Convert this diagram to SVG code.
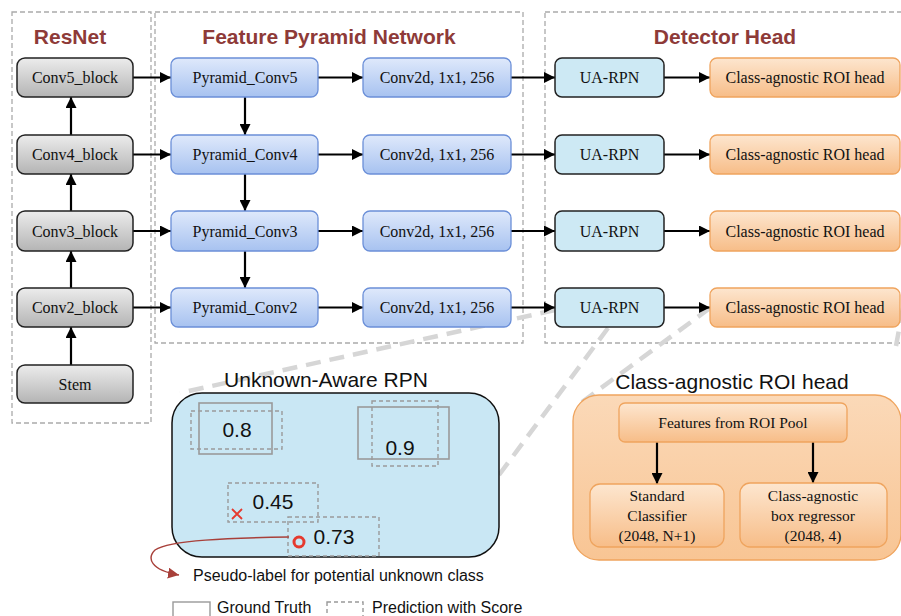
<svg xmlns="http://www.w3.org/2000/svg" width="901" height="616" viewBox="0 0 901 616">
<defs>
<linearGradient id="gGray" x1="0" y1="0" x2="0" y2="1"><stop offset="0" stop-color="#ececec"/><stop offset="1" stop-color="#b4b4b4"/></linearGradient>
<linearGradient id="gBlue" x1="0" y1="0" x2="0" y2="1"><stop offset="0" stop-color="#dfe9fb"/><stop offset="1" stop-color="#a7c2f0"/></linearGradient>
<linearGradient id="gOrange" x1="0" y1="0" x2="0" y2="1"><stop offset="0" stop-color="#fde6cf"/><stop offset="1" stop-color="#f7bd88"/></linearGradient>
<linearGradient id="gOrangeBig" x1="0" y1="0" x2="0" y2="1"><stop offset="0" stop-color="#fbd9b8"/><stop offset="1" stop-color="#f8c594"/></linearGradient>
<marker id="ah" viewBox="0 0 10 10" refX="10" refY="5" markerWidth="11" markerHeight="11" markerUnits="userSpaceOnUse" orient="auto"><path d="M0,0 L10,5 L0,10 z" fill="#000"/></marker>
<marker id="ahr" viewBox="0 0 10 10" refX="10" refY="5" markerWidth="11" markerHeight="11" markerUnits="userSpaceOnUse" orient="auto"><path d="M0,0 L10,5 L0,10 z" fill="#a8403a"/></marker>
</defs>
<style>
.panel{fill:none;stroke:#aaa;stroke-width:1.3;stroke-dasharray:5 3}
.title{font-family:"Liberation Sans",Arial,sans-serif;font-weight:bold;font-size:21px;fill:#8e3a38;text-anchor:middle}
.gray{fill:url(#gGray);stroke:#222;stroke-width:1.5}
.blue{fill:url(#gBlue);stroke:#6b8fd8;stroke-width:1.3}
.rpn{fill:#cde9f4;stroke:#222;stroke-width:1.5}
.orange{fill:url(#gOrange);stroke:#efa45e;stroke-width:1.3}
.t{font-family:"Liberation Serif","Times New Roman",serif;font-size:16px;fill:#111;text-anchor:middle}
.ts{font-family:"Liberation Serif","Times New Roman",serif;font-size:15.5px;fill:#111;text-anchor:middle}
.conn line{stroke:#000;stroke-width:2.2;marker-end:url(#ah)}
.lead{stroke:#d6d6d6;stroke-width:4.5;stroke-dasharray:15 9;fill:none}
.sans{font-family:"Liberation Sans",Arial,sans-serif;fill:#111}
.gt{fill:none;stroke:#9a9a9a;stroke-width:1.6}
.pr{fill:none;stroke:#9a9a9a;stroke-width:1.4;stroke-dasharray:4 3}
</style>
<rect width="901" height="616" fill="#fff"/>
<!-- panels -->
<g id="panels">
<rect class="panel" x="12" y="12" width="139" height="411"/>
<rect class="panel" x="155" y="12" width="368" height="331"/>
<rect class="panel" x="545" y="12" width="380" height="331"/>
<text class="title" x="70" y="44">ResNet</text>
<text class="title" x="329" y="44">Feature Pyramid Network</text>
<text class="title" x="725" y="44">Detector Head</text>
</g>
<!-- leading lines -->
<g id="leads">
<line class="lead" x1="555" y1="310" x2="180" y2="393"/>
<line class="lead" x1="608" y1="328" x2="499" y2="475"/>
<line class="lead" x1="710" y1="308" x2="582" y2="402"/>
<line class="lead" x1="903" y1="308" x2="896" y2="346"/>
</g>
<!-- Unknown-Aware RPN panel -->
<g id="unknown_aware_rpn">
<text class="sans" x="326" y="387" font-size="21" text-anchor="middle">Unknown-Aware RPN</text>
<rect x="172" y="393" width="327" height="164" rx="30" fill="#c9e7f4" stroke="#111" stroke-width="1.5"/>
<rect class="gt" x="199" y="403" width="73" height="51"/>
<rect class="pr" x="191" y="411" width="91" height="38"/>
<text class="sans" x="237" y="437" font-size="21" text-anchor="middle">0.8</text>
<rect class="gt" x="358" y="407" width="91" height="52"/>
<rect class="pr" x="372" y="401" width="66" height="65"/>
<text class="sans" x="400" y="455" font-size="21" text-anchor="middle">0.9</text>
<rect class="pr" x="228" y="483" width="90" height="39"/>
<text class="sans" x="273" y="509" font-size="21" text-anchor="middle">0.45</text>
<path d="M232,509 L242,519 M242,509 L232,519" stroke="#e53a2f" stroke-width="1.8"/>
<rect class="pr" x="288" y="517" width="91" height="39"/>
<text class="sans" x="334" y="544" font-size="21" text-anchor="middle">0.73</text>
<circle cx="299" cy="542" r="5" fill="none" stroke="#e53a2f" stroke-width="3"/>
<path d="M289,537 C230,538 170,540 155,550 C147,558 150,570 179,575" fill="none" stroke="#a8403a" stroke-width="1.4" marker-end="url(#ahr)"/>
<text class="sans" x="193" y="581" font-size="16">Pseudo-label for potential unknown class</text>
</g>
<!-- Class-agnostic ROI head panel -->
<g id="roi_detail">
<text class="sans" x="732" y="389" font-size="21" text-anchor="middle">Class-agnostic ROI head</text>
<rect x="573" y="395" width="328" height="165" rx="26" fill="url(#gOrangeBig)" stroke="#efa45e" stroke-width="1.3"/>
</g>
<!-- connectors -->
<g id="connectors" class="conn">
<line x1="133" y1="77.5" x2="171" y2="77.5"/>
<line x1="133" y1="154.5" x2="171" y2="154.5"/>
<line x1="133" y1="231" x2="171" y2="231"/>
<line x1="133" y1="307.5" x2="171" y2="307.5"/>
<line x1="318" y1="77.5" x2="363" y2="77.5"/>
<line x1="318" y1="154.5" x2="363" y2="154.5"/>
<line x1="318" y1="231" x2="363" y2="231"/>
<line x1="318" y1="307.5" x2="363" y2="307.5"/>
<line x1="511" y1="77.5" x2="555" y2="77.5"/>
<line x1="511" y1="154.5" x2="555" y2="154.5"/>
<line x1="511" y1="231" x2="555" y2="231"/>
<line x1="511" y1="307.5" x2="555" y2="307.5"/>
<line x1="664" y1="77.5" x2="710" y2="77.5"/>
<line x1="664" y1="154.5" x2="710" y2="154.5"/>
<line x1="664" y1="231" x2="710" y2="231"/>
<line x1="664" y1="307.5" x2="710" y2="307.5"/>
<line x1="71" y1="135" x2="71" y2="97"/>
<line x1="71" y1="211" x2="71" y2="174"/>
<line x1="71" y1="288" x2="71" y2="251"/>
<line x1="71" y1="365" x2="71" y2="327"/>
<line x1="245" y1="97" x2="245" y2="135"/>
<line x1="245" y1="174" x2="245" y2="211"/>
<line x1="245" y1="251" x2="245" y2="288"/>
<line x1="657" y1="442" x2="657" y2="484"/>
<line x1="813" y1="442" x2="813" y2="483"/>
</g>
<!-- ResNet nodes -->
<g id="conv5_block"><rect class="gray" x="17" y="58" width="116" height="39" rx="8"/><text class="t" x="75" y="83">Conv5_block</text></g>
<g id="conv4_block"><rect class="gray" x="17" y="135" width="116" height="39" rx="8"/><text class="t" x="75" y="160">Conv4_block</text></g>
<g id="conv3_block"><rect class="gray" x="17" y="211" width="116" height="40" rx="8"/><text class="t" x="75" y="236.5">Conv3_block</text></g>
<g id="conv2_block"><rect class="gray" x="17" y="288" width="116" height="39" rx="8"/><text class="t" x="75" y="313">Conv2_block</text></g>
<g id="stem"><rect class="gray" x="17" y="365" width="116" height="38" rx="8"/><text class="t" x="75" y="389.5">Stem</text></g>
<!-- FPN nodes -->
<g id="pyramid_conv5"><rect class="blue" x="171" y="58" width="147" height="39" rx="7"/><text class="t" x="245" y="83">Pyramid_Conv5</text></g>
<g id="pyramid_conv4"><rect class="blue" x="171" y="135" width="147" height="39" rx="7"/><text class="t" x="245" y="160">Pyramid_Conv4</text></g>
<g id="pyramid_conv3"><rect class="blue" x="171" y="211" width="147" height="40" rx="7"/><text class="t" x="245" y="236.5">Pyramid_Conv3</text></g>
<g id="pyramid_conv2"><rect class="blue" x="171" y="288" width="147" height="39" rx="7"/><text class="t" x="245" y="313">Pyramid_Conv2</text></g>
<g id="conv2d_5"><rect class="blue" x="363" y="58" width="148" height="39" rx="7"/><text class="t" x="437" y="83">Conv2d, 1x1, 256</text></g>
<g id="conv2d_4"><rect class="blue" x="363" y="135" width="148" height="39" rx="7"/><text class="t" x="437" y="160">Conv2d, 1x1, 256</text></g>
<g id="conv2d_3"><rect class="blue" x="363" y="211" width="148" height="40" rx="7"/><text class="t" x="437" y="236.5">Conv2d, 1x1, 256</text></g>
<g id="conv2d_2"><rect class="blue" x="363" y="288" width="148" height="39" rx="7"/><text class="t" x="437" y="313">Conv2d, 1x1, 256</text></g>
<!-- Detector head nodes -->
<g id="uarpn_5"><rect class="rpn" x="555" y="58" width="109" height="39" rx="7"/><text class="t" x="609.5" y="83">UA-RPN</text></g>
<g id="uarpn_4"><rect class="rpn" x="555" y="135" width="109" height="39" rx="7"/><text class="t" x="609.5" y="160">UA-RPN</text></g>
<g id="uarpn_3"><rect class="rpn" x="555" y="211" width="109" height="40" rx="7"/><text class="t" x="609.5" y="236.5">UA-RPN</text></g>
<g id="uarpn_2"><rect class="rpn" x="555" y="288" width="109" height="39" rx="7"/><text class="t" x="609.5" y="313">UA-RPN</text></g>
<g id="roi_5"><rect class="orange" x="710" y="58" width="190" height="39" rx="7"/><text class="t" x="805" y="83">Class-agnostic ROI head</text></g>
<g id="roi_4"><rect class="orange" x="710" y="135" width="190" height="39" rx="7"/><text class="t" x="805" y="160">Class-agnostic ROI head</text></g>
<g id="roi_3"><rect class="orange" x="710" y="211" width="190" height="40" rx="7"/><text class="t" x="805" y="236.5">Class-agnostic ROI head</text></g>
<g id="roi_2"><rect class="orange" x="710" y="288" width="190" height="39" rx="7"/><text class="t" x="805" y="313">Class-agnostic ROI head</text></g>
<!-- ROI head detail nodes -->
<g id="features_roi_pool"><rect class="orange" x="619" y="403" width="228" height="39" rx="6"/><text class="ts" x="733" y="428">Features from ROI Pool</text></g>
<g id="standard_classifier"><rect class="orange" x="590" y="484" width="134" height="63" rx="10"/><text class="ts" x="657" y="501">Standard</text><text class="ts" x="657" y="521">Classifier</text><text class="ts" x="657" y="541">(2048, N+1)</text></g>
<g id="box_regressor"><rect class="orange" x="740" y="483" width="147" height="64" rx="10"/><text class="ts" x="813" y="501">Class-agnostic</text><text class="ts" x="813" y="521">box regressor</text><text class="ts" x="813" y="541">(2048, 4)</text></g>
<!-- legend -->
<g id="legend">
<rect x="173" y="602" width="37" height="22" fill="none" stroke="#999" stroke-width="1.4"/>
<text class="sans" x="217" y="613" font-size="16">Ground Truth</text>
<rect x="327" y="602" width="36" height="22" fill="none" stroke="#999" stroke-width="1.4" stroke-dasharray="4 3"/>
<text class="sans" x="372" y="613" font-size="16">Prediction with Score</text>
</g>
</svg>
